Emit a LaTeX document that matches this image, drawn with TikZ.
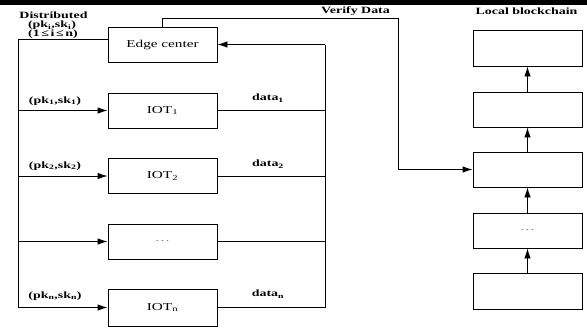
\documentclass[tikz,border=0pt]{standalone}
\usepackage{fontspec}
\setmainfont{Liberation Serif}[FakeStretch=1.45]
\usetikzlibrary{arrows.meta,calc}

\tikzset{
  box/.style={draw, line width=0.9pt, minimum width=109pt, minimum height=35pt,
    inner sep=0pt, font=\fontsize{10.5}{12}\selectfont},
  lbl/.style={font=\fontsize{9.6}{11}\selectfont\bfseries, inner sep=0pt},
  wire/.style={line width=0.9pt},
  arr/.style={wire, -{Latex[length=10pt,width=6.5pt]}}
}

\begin{document}
\begin{tikzpicture}[x=1pt,y=-1pt]
  \useasboundingbox (0,0) rectangle (587,330);
  % dark strip along the top edge
  \fill[black] (0,0) rectangle (587,5);

  % edge centre and the IoT devices
  \node[box] (ec) at (162.5,44.5) {Edge center};
  \node[box] (iot1) at (162.5,110.5) {IOT\textsubscript{1}};
  \node[box] (iot2) at (162.5,176) {IOT\textsubscript{2}};
  \node[box] (iotd) at (162.5,241.5) {\textcolor{gray}{\dots}};
  \node[box, minimum height=37pt] (iotn) at (162.5,307.5) {IOT\textsubscript{n}};

  % local blockchain
  \node[box, minimum height=36pt] (b1) at (527.5,48) {};
  \node[box] (b2) at (527.5,109.5) {};
  \node[box] (b3) at (527.5,169.5) {};
  \node[box] (b4) at (527.5,230.5) {\textcolor{gray}{\dots}};
  \node[box, minimum height=36pt] (b5) at (527.5,291) {};

  \draw[arr] (b5) -- (b4);
  \draw[arr] (b4) -- (b3);
  \draw[arr] (b3) -- (b2);
  \draw[arr] (b2) -- (b1);

  % key distribution bus on the left
  \coordinate (kTop) at (18,39.5);
  \coordinate (kBot) at (18,307.5);
  \draw[wire] ([yshift=5pt]ec.west) -- (kTop) -- (kBot);
  \draw[arr] (kBot) -- (iotn.west);
  \draw[arr] (kTop |- iot1.west) -- (iot1.west);
  \draw[arr] (kTop |- iot2.west) -- (iot2.west);
  \draw[arr] (kTop |- iotd.west) -- (iotd.west);

  % data bus on the right
  \coordinate (dTop) at (325,44.5);
  \coordinate (dBot) at (325,307.5);
  \draw[wire] (iotn.east) -- (dBot) -- (dTop);
  \draw[arr] (dTop) -- (ec.east);
  \draw[wire] (iot1.east) -- (dTop |- iot1.east);
  \draw[wire] (iot2.east) -- (dTop |- iot2.east);
  \draw[wire] (iotd.east) -- (dTop |- iotd.east);

  % verification path to the blockchain
  \coordinate (v1) at (162.5,18);
  \coordinate (v2) at (398,18);
  \draw[arr] (ec.north) -- (v1) -- (v2) |- (b3.west);

  % labels
  \node[lbl] (tDist) at (53.5,15.5) {Distributed};
  \node[lbl] (tKey) at (52,25.5) {(pk\textsubscript{i},sk\textsubscript{i})};
  \node[lbl] (tRange) at (53,34.5) {(1\,≤\,i\,≤\,n)};
  \node[lbl] (tk1) at (55,101) {(pk\textsubscript{1},sk\textsubscript{1})};
  \node[lbl] (tk2) at (55,166) {(pk\textsubscript{2},sk\textsubscript{2})};
  \node[lbl] (tkn) at (55,296) {(pk\textsubscript{n},sk\textsubscript{n})};
  \node[lbl] (td1) at (268,98) {data\textsubscript{1}};
  \node[lbl] (td2) at (268,164) {data\textsubscript{2}};
  \node[lbl] (tdn) at (268,294) {data\textsubscript{n}};
  \node[lbl] (tVer) at (355.5,11) {Verify Data};
  \node[lbl] (tLoc) at (526.5,11) {Local blockchain};
\end{tikzpicture}
\end{document}
